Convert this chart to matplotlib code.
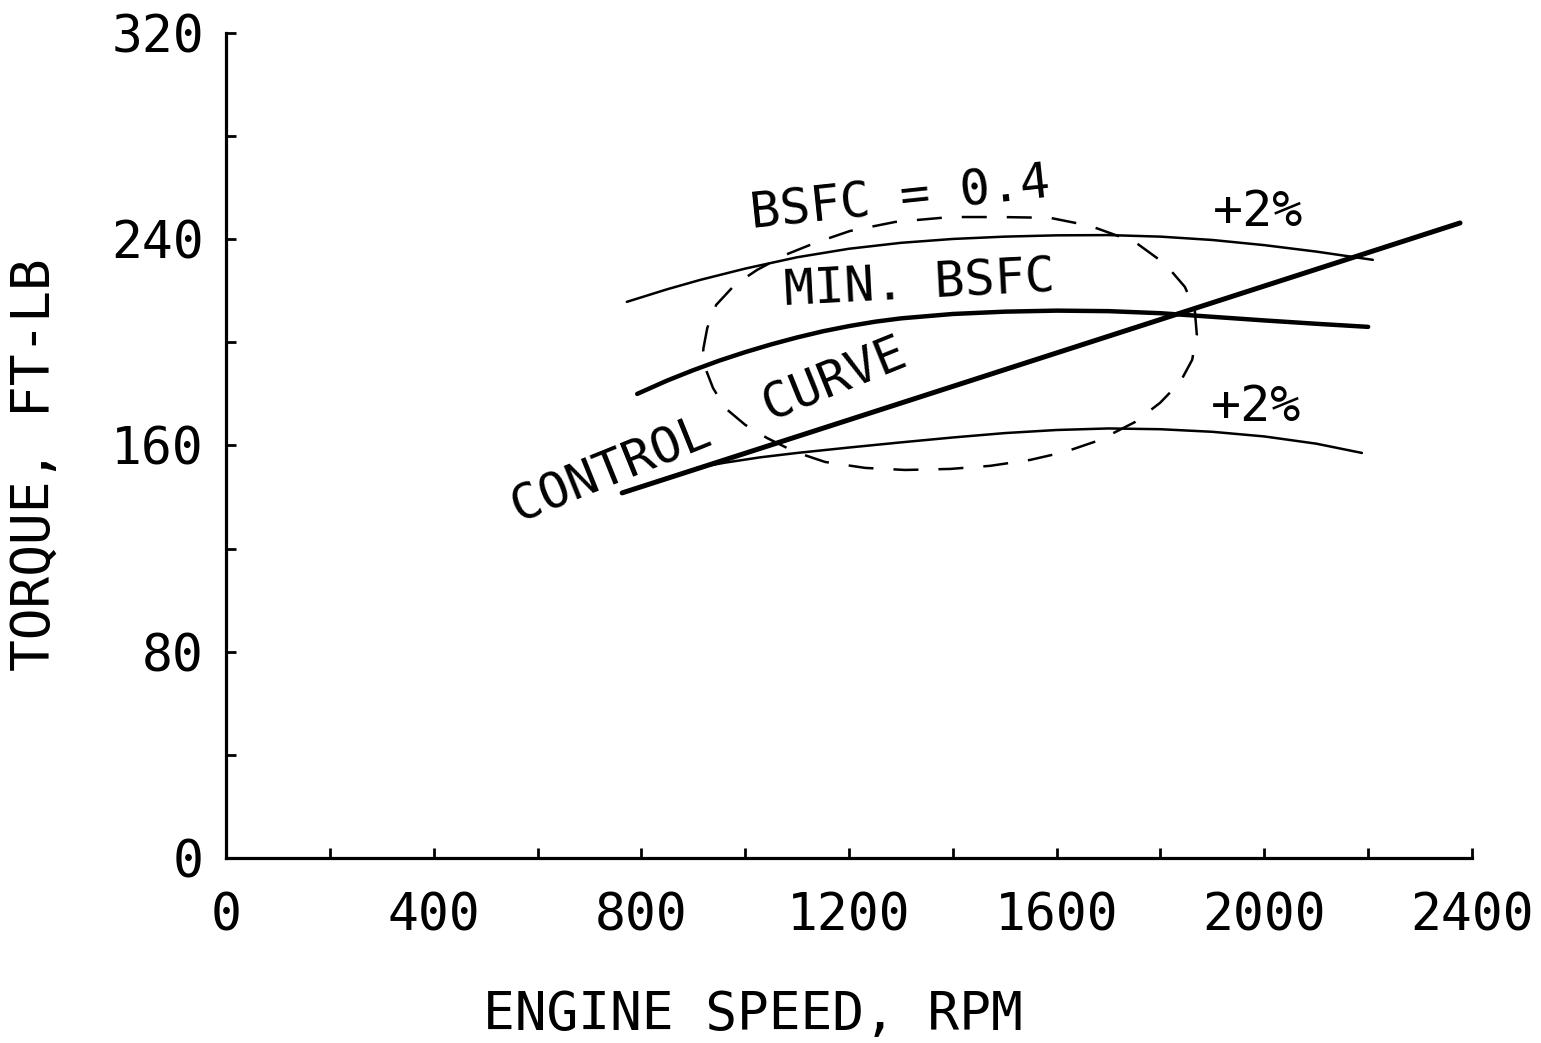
import matplotlib
matplotlib.use("Agg")
import matplotlib.pyplot as plt
from matplotlib.ticker import FixedLocator, FuncFormatter

plt.rcParams['font.family'] = ['DejaVu Sans Mono', 'DejaVu Sans']

# ---------------- data (rpm, torque ft-lb) ----------------
upper_rpm = [772, 850, 913, 1000, 1100, 1200, 1300, 1400, 1500, 1600, 1700, 1800, 1900, 2000, 2100, 2209]
upper_tq = [215.7, 220.6, 224.2, 228.6, 233.0, 236.3, 238.6, 240.1, 241.0, 241.5, 241.6, 241.0, 239.7, 237.7, 235.2, 232.0]

min_rpm = [792, 850, 900, 950, 1000, 1050, 1100, 1150, 1200, 1250, 1300, 1400, 1500, 1600, 1700, 1800, 1900, 2000, 2100, 2200]
min_tq = [180.0, 185.2, 189.2, 192.9, 196.2, 199.2, 201.9, 204.3, 206.3, 208.0, 209.3, 211.0, 211.9, 212.3, 212.1, 211.3, 209.9, 208.5, 207.2, 206.0]

lower_rpm = [907, 960, 1029, 1100, 1200, 1300, 1400, 1500, 1600, 1700, 1800, 1900, 2000, 2100, 2188]
lower_tq = [151.3, 153.3, 155.4, 157.1, 159.2, 161.2, 163.1, 164.8, 166.0, 166.6, 166.3, 165.3, 163.5, 160.7, 157.1]

control_rpm = [763, 2377]
control_tq = [141.6, 246.3]

ellipse_rpm = [919, 927, 944, 980, 1023, 1077, 1135, 1202, 1289, 1395, 1491, 1587, 1664,
               1751, 1809, 1847, 1866, 1870, 1861, 1838, 1799, 1751, 1683, 1616, 1549,
               1472, 1395, 1308, 1231, 1154, 1096, 1042, 1000, 961, 938, 923, 919]
ellipse_tq = [197.1, 205.6, 214.5, 222.3, 228.1, 233.9, 238.6, 243.2, 246.7, 248.6, 248.6, 248.3, 245.2,
              238.9, 230.4, 221.5, 212.6, 202.9, 193.2, 184.6, 176.5, 169.1, 162.1, 157.5, 154.4,
              152.1, 150.9, 150.5, 151.3, 153.6, 157.5, 162.9, 168.0, 174.6, 182.3, 190.1, 197.1]

x_ticks = list(range(0, 2401, 200))
x_labels_every = 400
y_ticks = list(range(0, 321, 40))
y_labels_every = 80

xlabel = "ENGINE SPEED, RPM"
ylabel = "TORQUE, FT-LB"

# ---------------- figure ----------------
fig = plt.figure(figsize=(15.41, 10.43), dpi=100)
ax = fig.add_axes([0.1467, 0.1774, 0.9552 - 0.1467, 0.9684 - 0.1774])
ax.set_xlim(0, 2400)
ax.set_ylim(0, 320)

for s in ['top', 'right']:
    ax.spines[s].set_visible(False)
for s in ['left', 'bottom']:
    ax.spines[s].set_linewidth(2.3)
    ax.spines[s].set_color('black')

ax.xaxis.set_major_locator(FixedLocator(x_ticks))
ax.yaxis.set_major_locator(FixedLocator(y_ticks))
ax.xaxis.set_major_formatter(FuncFormatter(lambda v, p: f"{int(v)}" if int(v) % x_labels_every == 0 else ""))
ax.yaxis.set_major_formatter(FuncFormatter(lambda v, p: f"{int(v)}" if int(v) % y_labels_every == 0 else ""))
ax.tick_params(axis='both', direction='in', length=7, width=2, color='black', labelsize=37)
ax.tick_params(axis='x', pad=24)
ax.tick_params(axis='y', pad=16)

ax.plot(upper_rpm, upper_tq, color='black', lw=1.8, solid_capstyle='round', solid_joinstyle='round')
ax.plot(min_rpm, min_tq, color='black', lw=3.2, solid_capstyle='round', solid_joinstyle='round')
ax.plot(lower_rpm, lower_tq, color='black', lw=1.8, solid_capstyle='round', solid_joinstyle='round')
ax.plot(control_rpm, control_tq, color='black', lw=3.6, solid_capstyle='round')
ax.plot(ellipse_rpm, ellipse_tq, color='black', lw=1.8, linestyle=(0, (10, 8)))

tkw = dict(color='black', fontsize=36, ha='center', va='center')
ax.text(1298, 255.5, "BSFC = 0.4", rotation=6, **tkw)
ax.text(1336, 222.3, "MIN. BSFC", rotation=3, **tkw)
ax.text(930, 165.5, "CONTROL  CURVE", rotation=22, **tkw)
ax.text(1988, 250.6, "+2%", **tkw)
ax.text(1984, 175.0, "+2%", **tkw)

fig.text(753 / 1541, 1 - 1015 / 1043, xlabel, fontsize=38, ha='center', va='center')
fig.text(35 / 1541, 1 - 465 / 1043, ylabel, fontsize=38, ha='center', va='center', rotation=90)

fig.savefig("out.png", dpi=100, facecolor='white')
